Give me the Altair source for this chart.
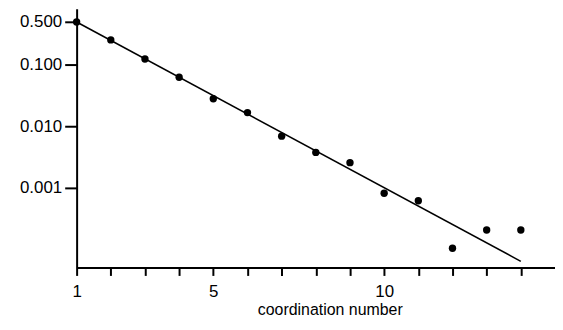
import altair as alt
import pandas as pd

# Data
coord = [1, 2, 3, 4, 5, 6, 7, 8, 9, 10, 11, 12, 13, 14]
prob = [0.5, 0.255, 0.125, 0.063, 0.0281, 0.0167, 0.0069, 0.00375,
        0.00255, 0.00081, 0.00061, 0.000103, 0.000204, 0.000204]

fit_x = [1, 14]
fit_y = [0.5, 0.000063]

x_ticks = list(range(1, 15))
x_labels = [1, 5, 10]
y_ticks = [0.001, 0.01, 0.1, 0.5]

pts = pd.DataFrame({"x": coord, "y": prob})
fit = pd.DataFrame({"x": fit_x, "y": fit_y})

FONT = "Liberation Sans"

xscale = alt.Scale(domain=[1, 15], nice=False, zero=False)
yscale = alt.Scale(type="log", domain=[0.00005, 0.818], nice=False)

cond = " || ".join("datum.value == %d" % v for v in x_labels)
label_expr = "(" + cond + ") ? datum.label : ''"

xaxis = alt.Axis(
    values=x_ticks, labelExpr=label_expr, grid=False,
    title="coordination number", titleFont=FONT, titleFontSize=16,
    titleFontWeight="normal", titleColor="black",
    titleX=254.5, titleY=47, titleBaseline="alphabetic", titleAlign="center",
    labelFont=FONT, labelFontSize=17, labelColor="black", labelPadding=8,
    tickSize=8, tickWidth=2, tickColor="black",
    domainColor="black", domainWidth=2, labelFlush=False, labelOverlap=False,
)
yaxis = alt.Axis(
    values=y_ticks, format=".3f", grid=False, title=None,
    labelFont=FONT, labelFontSize=17, labelColor="black", labelPadding=3,
    tickSize=12, tickWidth=2, tickColor="black",
    domainColor="black", domainWidth=2, labelFlush=False, labelOverlap=False,
)

line = alt.Chart(fit).mark_line(color="black", strokeWidth=1.5).encode(
    x=alt.X("x:Q", scale=xscale, axis=xaxis),
    y=alt.Y("y:Q", scale=yscale, axis=yaxis),
)
points = alt.Chart(pts).mark_circle(color="black", opacity=1, size=55).encode(
    x=alt.X("x:Q", scale=xscale, axis=xaxis),
    y=alt.Y("y:Q", scale=yscale, axis=yaxis),
)

chart = (line + points).properties(
    width=481, height=260,
    autosize=alt.AutoSizeParams(type="none"),
    padding={"left": 69, "top": 0, "right": 0, "bottom": 60},
    background="white",
).configure_view(stroke=None)

chart.save("out.html", embed_options={"renderer": "svg", "actions": False})
